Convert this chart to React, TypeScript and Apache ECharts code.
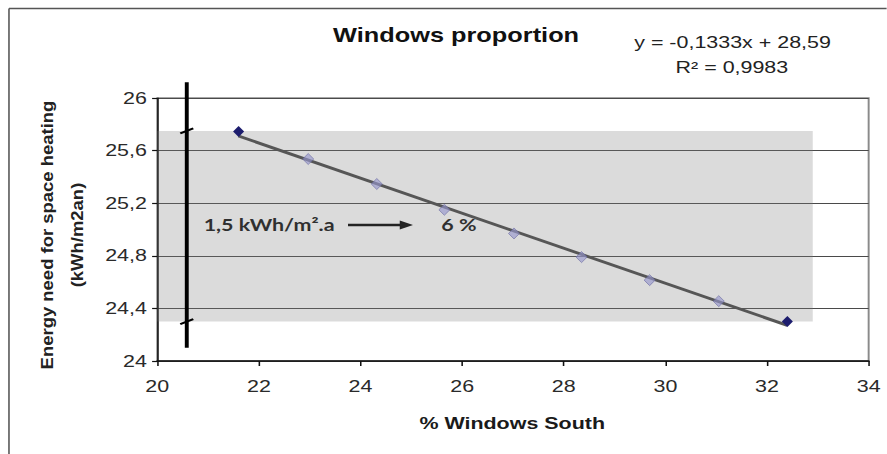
import React, { useEffect, useRef } from "react";
import * as echarts from "echarts";

// Measured points: share of south-facing windows (%) vs heating need (kWh/m2an)
const windowsSouth = [21.6, 22.97, 24.32, 25.65, 27.02, 28.35, 29.69, 31.05, 32.4];
const energyNeed = [25.746, 25.536, 25.346, 25.15, 24.97, 24.79, 24.615, 24.455, 24.3];

// Linear regression printed on the chart
const slope = -0.1333;
const intercept = 28.59;
const rSquared = 0.9983;

// Axis ranges and ticks
const xTicks = { min: 20, max: 34, interval: 2 };
const yTicks = { min: 24, max: 26, interval: 0.4 };

// Shaded range of the heating need and the broken bracket next to it
const bandX = [20, 32.9];
const bandY = [24.3, 25.75];
const bracketX = 20.58;
const bracketY = [24.1, 26.12];

const savingText = "1,5 kWh/m².a";
const savingPct = "6 %";

const W = 887;
const H = 454;
const K = 1.3; // horizontal stretch of the whole figure
const CW = W / K;

const fmt = (v: number) => v.toString().replace(".", ",");
const tickFmt = (v: number) => {
  const r = Math.round(v * 10) / 10;
  return Number.isInteger(r) ? String(r) : r.toFixed(1).replace(".", ",");
};

export default function App() {
  const ref = useRef<HTMLDivElement>(null);

  useEffect(() => {
    if (!ref.current) return;
    const chart = echarts.init(ref.current, null, { renderer: "svg" });

    const points = windowsSouth.map((x, i) => [x, energyNeed[i]]);
    const lastIdx = points.length - 1;
    const trend = [windowsSouth[0], windowsSouth[lastIdx]].map((x) => [
      x,
      slope * x + intercept,
    ]);

    const font = "'Liberation Sans', Arial, sans-serif";

    chart.setOption({
      animation: false,
      backgroundColor: "#ffffff",
      textStyle: { fontFamily: font },
      grid: {
        left: 121,
        right: CW - 668.5,
        top: 98,
        bottom: 93,
        show: true,
        borderColor: "#8a8a8a",
        borderWidth: 1.5,
        backgroundColor: "transparent",
      },
      xAxis: {
        type: "value",
        min: xTicks.min,
        max: xTicks.max,
        interval: xTicks.interval,
        axisLine: { show: true, onZero: false, lineStyle: { color: "#111", width: 1.6 } },
        axisTick: { show: true, inside: false, length: 5, lineStyle: { color: "#111", width: 1.2 } },
        axisLabel: { color: "#2a2a2a", fontSize: 16.5, margin: 17, fontFamily: font },
        splitLine: { show: false },
      },
      yAxis: {
        type: "value",
        min: yTicks.min,
        max: yTicks.max,
        interval: yTicks.interval,
        axisLine: { show: true, onZero: false, lineStyle: { color: "#111", width: 1.2 } },
        axisTick: { show: true, inside: false, length: 4, lineStyle: { color: "#111", width: 1.2 } },
        axisLabel: { color: "#2a2a2a", fontSize: 16.5, margin: 8, fontFamily: font, formatter: tickFmt },
        splitLine: { show: true, lineStyle: { color: "#4a4a4a", width: 1.1 } },
      },
      series: [
        {
          type: "line",
          data: [],
          z: 1,
          silent: true,
          markArea: {
            silent: true,
            itemStyle: { color: "rgba(125,125,125,0.28)" },
            data: [
              [
                { coord: [bandX[0], bandY[1]] },
                { coord: [bandX[1], bandY[0]] },
              ],
            ],
          },
        },
        {
          type: "custom",
          z: 4,
          clip: false,
          silent: true,
          data: [[bracketX, bracketY[0], bracketY[1]]],
          renderItem: (_params: any, api: any) => {
            const top = api.coord([bracketX, bracketY[1]]);
            const bot = api.coord([bracketX, bracketY[0]]);
            const b1 = api.coord([bracketX, bandY[1]]);
            const b2 = api.coord([bracketX, bandY[0]]);
            const mark = (p: number[]) => ({
              type: "polyline",
              shape: {
                points: [
                  [p[0] - 5, p[1] + 2.5],
                  [p[0] - 1, p[1] + 0.5],
                  [p[0] + 1, p[1] - 0.5],
                  [p[0] + 5, p[1] - 2.5],
                ],
              },
              style: { stroke: "#000", lineWidth: 2, fill: "none" },
            });
            return {
              type: "group",
              children: [
                {
                  type: "line",
                  shape: { x1: top[0], y1: top[1], x2: bot[0], y2: bot[1] },
                  style: { stroke: "#000", lineWidth: 3 },
                },
                mark(b1),
                mark(b2),
              ],
            };
          },
        },
        {
          type: "line",
          z: 2,
          data: trend,
          symbol: "none",
          lineStyle: { color: "#565656", width: 2.8 },
          silent: true,
        },
        {
          type: "scatter",
          z: 3,
          data: points.map((p, i) => ({
            value: p,
            itemStyle:
              i === 0 || i === lastIdx
                ? { color: "#1d1d6e", opacity: 1 }
                : { color: "rgba(150,150,205,0.8)", borderColor: "rgba(105,105,160,0.85)", borderWidth: 0.8 },
          })),
          symbol: "diamond",
          symbolSize: [8.5, 11],
          silent: true,
        },
      ],
      graphic: [
        // figure frame
        { type: "line", shape: { x1: 6.9, y1: 8.5, x2: CW, y2: 8.5 }, style: { stroke: "#555", lineWidth: 1.5 } },
        { type: "line", shape: { x1: 6.9, y1: 8.5, x2: 6.9, y2: H }, style: { stroke: "#555", lineWidth: 1.2 } },
        {
          type: "text",
          x: 350.8,
          y: 36,
          style: {
            text: "Windows proportion",
            font: `bold 19.5px ${font}`,
            fill: "#111",
            textAlign: "center",
            textVerticalAlign: "middle",
          },
        },
        {
          type: "text",
          x: 563.5,
          y: 42,
          style: {
            text: `y = ${fmt(slope)}x + ${fmt(intercept)}`,
            font: `16.5px ${font}`,
            fill: "#222",
            textAlign: "center",
            textVerticalAlign: "middle",
          },
        },
        {
          type: "text",
          x: 563,
          y: 67,
          style: {
            text: `R² = ${fmt(rSquared)}`,
            font: `16.5px ${font}`,
            fill: "#222",
            textAlign: "center",
            textVerticalAlign: "middle",
          },
        },
        {
          type: "text",
          x: 36.2,
          y: 235,
          rotation: Math.PI / 2,
          scaleX: 1.32,
          scaleY: 0.95,
          style: {
            text: "Energy need for space heating",
            font: `bold 14px ${font}`,
            fill: "#222",
            textAlign: "center",
            textVerticalAlign: "middle",
          },
        },
        {
          type: "text",
          x: 59.2,
          y: 235,
          rotation: Math.PI / 2,
          scaleX: 1.32,
          scaleY: 0.95,
          style: {
            text: "(kWh/m2an)",
            font: `bold 14px ${font}`,
            fill: "#222",
            textAlign: "center",
            textVerticalAlign: "middle",
          },
        },
        {
          type: "text",
          x: 394,
          y: 423,
          style: {
            text: "% Windows South",
            font: `bold 16.5px ${font}`,
            fill: "#1a1a1a",
            textAlign: "center",
            textVerticalAlign: "middle",
          },
        },
        {
          type: "text",
          x: 207,
          y: 225,
          style: {
            text: savingText,
            font: "bold 16.5px Lato, 'Open Sans', sans-serif",
            fill: "#111",
            textAlign: "center",
            textVerticalAlign: "middle",
          },
        },
        {
          type: "line",
          shape: { x1: 267.7, y1: 225, x2: 310, y2: 225 },
          style: { stroke: "#000", lineWidth: 2.4 },
        },
        {
          type: "polygon",
          shape: { points: [[307.5, 220.5], [317.7, 225], [307.5, 229.5]] },
          style: { fill: "#000" },
        },
        {
          type: "text",
          x: 353,
          y: 225,
          style: {
            text: savingPct,
            font: "bold 16.5px Lato, 'Open Sans', sans-serif",
            fill: "#111",
            textAlign: "center",
            textVerticalAlign: "middle",
          },
        },
      ],
    });

    return () => chart.dispose();
  }, []);

  return (
    <div
      style={{
        position: "absolute",
        left: 0,
        top: 0,
        width: W,
        height: H,
        overflow: "hidden",
        background: "#fff",
      }}
    >
      <div
        ref={ref}
        style={{
          width: CW,
          height: H,
          transform: `scaleX(${K})`,
          transformOrigin: "0 0",
        }}
      />
    </div>
  );
}
